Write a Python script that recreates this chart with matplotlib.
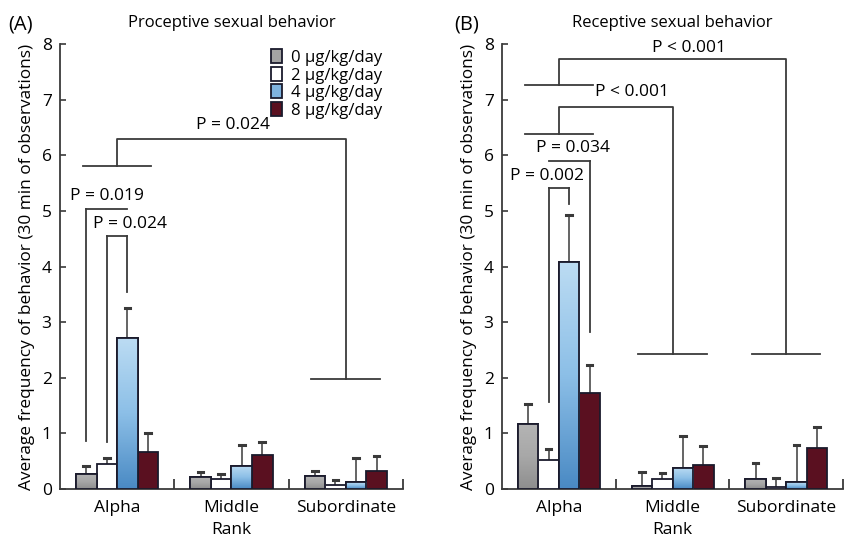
import numpy as np
import matplotlib
matplotlib.use("Agg")
import matplotlib.pyplot as plt
from matplotlib.patches import Patch
from matplotlib.colors import LinearSegmentedColormap

plt.rcParams['font.family'] = ['Open Sans', 'DejaVu Sans']

# categories and doses
ranks = ["Alpha", "Middle", "Subordinate"]
doses = ["0 µg/kg/day", "2 µg/kg/day", "4 µg/kg/day", "8 µg/kg/day"]

# (A) proceptive: mean and upper error bar end, rows = dose, cols = rank
pro_mean = [[0.27, 0.22, 0.23],
            [0.45, 0.18, 0.08],
            [2.72, 0.42, 0.12],
            [0.67, 0.62, 0.33]]
pro_err = [[0.41, 0.31, 0.33],
           [0.56, 0.27, 0.17],
           [3.26, 0.80, 0.56],
           [1.01, 0.85, 0.60]]

# (B) receptive
rec_mean = [[1.17, 0.05, 0.18],
            [0.52, 0.18, 0.04],
            [4.09, 0.38, 0.12],
            [1.73, 0.43, 0.73]]
rec_err = [[1.53, 0.30, 0.46],
           [0.72, 0.28, 0.20],
           [4.93, 0.95, 0.80],
           [2.23, 0.78, 1.12]]

# significance annotations
# group brackets: (from rank, to rank, low y at from, top y, low y at to, label, label x, label y)
pro_group = [(0, 2, 5.81, 6.29, 1.97, "P = 0.024", 1.51, 6.55)]
rec_group = [(0, 2, 7.27, 7.73, 2.42, "P < 0.001", 1.64, 7.93),
             (0, 1, 6.38, 6.86, 2.42, "P < 0.001", 1.14, 7.13)]
# dose brackets within alpha: (dose a, dose b, top y, leg a end, leg b end, label, label x, label y)
pro_dose = [(0, 2, 5.03, 0.87, None, "P = 0.019", 0.41, 5.27),
            (1, 2, 4.55, 0.85, 3.55, "P = 0.024", 0.61, 4.77)]
rec_dose = [(1, 3, 5.90, None, 2.83, "P = 0.034", 0.62, 6.14),
            (1, 2, 5.41, 1.57, 5.13, "P = 0.002", 0.40, 5.63)]

offsets = [-0.27, -0.09, 0.09, 0.27]
bar_w = 0.18
solid = ["#a3a3a3", "white", "#7fb3df", "#5a1020"]
blue_cmap = LinearSegmentedColormap.from_list("b", ["#4a8ac4", "#8cbfe7", "#bcdcf3"])
gray_cmap = LinearSegmentedColormap.from_list("g", ["#8e8e8e", "#a8a8a8", "#b4b4b4"])
lc = "#3a3a3a"
fs = 12.5

fig = plt.figure(figsize=(8.53, 5.40), dpi=100)
axA = fig.add_axes([0.0703, 0.0944, 0.402, 0.824])
axB = fig.add_axes([0.5885, 0.0944, 0.400, 0.824])


def draw_panel(ax, means, errs, groups, dbrackets, title, tag, tag_x):
    x = np.arange(len(ranks)) + 0.5
    for d in range(len(doses)):
        xs = x + offsets[d]
        bars = ax.bar(xs, means[d], bar_w, color=solid[d], edgecolor="#1a1a2c",
                      linewidth=1.3, zorder=3)
        for k, b in enumerate(bars):
            if d in (0, 2):
                cm = gray_cmap if d == 0 else blue_cmap
                grad = np.linspace(0, 1, 100).reshape(-1, 1)
                im = ax.imshow(grad, cmap=cm, origin="lower", aspect="auto",
                               extent=[xs[k] - bar_w / 2, xs[k] + bar_w / 2, 0, means[d][k]],
                               zorder=3.5)
                im.set_clip_path(b)
                ax.bar(xs[k], means[d][k], bar_w, fill=False, edgecolor="#1a1a2c",
                       linewidth=1.3, zorder=4)
            ax.plot([xs[k], xs[k]], [means[d][k], errs[d][k]], color=lc, lw=1.1, zorder=2)
            ax.plot([xs[k] - 0.025, xs[k] + 0.025], [errs[d][k], errs[d][k]],
                    color=lc, lw=2.2, zorder=2)

    for (i, j, ylo_i, ytop, ylo_j, lab, tx, ty) in groups:
        ci, cj = x[i], x[j]
        ax.plot([ci - 0.3, ci + 0.3], [ylo_i, ylo_i], color=lc, lw=1.3)
        ax.plot([ci, ci, cj, cj], [ylo_i, ytop, ytop, ylo_j], color=lc, lw=1.3)
        ax.plot([cj - 0.3, cj + 0.3], [ylo_j, ylo_j], color=lc, lw=1.3)
        ax.text(tx, ty, lab, ha="center", va="center", fontsize=fs)

    for (a, b, ytop, ya, yb, lab, tx, ty) in dbrackets:
        xa, xb = x[0] + offsets[a], x[0] + offsets[b]
        ax.plot([xa, xb], [ytop, ytop], color=lc, lw=1.3)
        if ya is not None:
            ax.plot([xa, xa], [ya, ytop], color=lc, lw=1.3)
        if yb is not None:
            ax.plot([xb, xb], [yb, ytop], color=lc, lw=1.3)
        ax.text(tx, ty, lab, ha="center", va="center", fontsize=fs)

    ax.set_xlim(0, 3)
    ax.set_ylim(0, 8)
    ax.set_xticks(x)
    ax.set_xticklabels(ranks, fontsize=fs)
    ax.set_xticks([1, 2, 3], minor=True)
    ax.tick_params(axis="x", which="major", length=0, pad=8)
    ax.tick_params(axis="x", which="minor", direction="in", length=7, width=1.3, color=lc)
    ax.set_yticks(range(0, 9))
    ax.tick_params(axis="y", direction="in", length=4, width=1.2, color=lc,
                   labelsize=fs, pad=6)
    ax.set_xlabel("Rank", fontsize=fs, labelpad=4)
    ax.set_ylabel("Average frequency of behavior (30 min of observations)",
                  fontsize=12.4, labelpad=5)
    for s in ("top", "right"):
        ax.spines[s].set_visible(False)
    for s in ("left", "bottom"):
        ax.spines[s].set_linewidth(1.3)
        ax.spines[s].set_color(lc)
    ax.set_title(title, fontsize=12, pad=12)
    fig.text(tag_x, 0.955, tag, fontsize=14.5, ha="left", va="center")


draw_panel(axA, pro_mean, pro_err, pro_group, pro_dose,
           "Proceptive sexual behavior", "(A)", 0.010)
draw_panel(axB, rec_mean, rec_err, rec_group, rec_dose,
           "Receptive sexual behavior", "(B)", 0.533)

handles = [Patch(facecolor=c, edgecolor="#1a1a2c", linewidth=1.3) for c in solid]
axA.legend(handles, doses, loc="upper left", bbox_to_anchor=(0.595, 1.003),
           frameon=False, fontsize=12, handlelength=0.7, handleheight=0.9,
           handletextpad=0.5, labelspacing=0.05, borderaxespad=0)

fig.savefig("out.png", dpi=100)
